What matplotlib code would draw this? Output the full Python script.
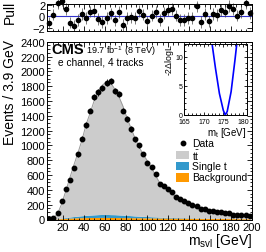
import matplotlib
matplotlib.use("Agg")
import matplotlib.pyplot as plt
from matplotlib.patches import Rectangle
from matplotlib.ticker import MultipleLocator
import numpy as np

plt.rcParams['font.family'] = ['Liberation Sans', 'DejaVu Sans']
plt.rcParams['mathtext.fontset'] = 'custom'
plt.rcParams['mathtext.rm'] = 'Liberation Sans'
plt.rcParams['mathtext.it'] = 'Liberation Sans:italic'

# m_svl binning: 50 bins of 3.9 GeV from 5 to 200
bin_lo = 5.0
bin_w = 3.9
n_bins = 50

data = [5, 24, 92, 248, 405, 535, 695, 880, 1090, 1275,
        1470, 1648, 1715, 1772, 1848, 1866, 1730, 1690, 1470, 1358,
        1222, 1080, 1002, 885, 765, 702, 608, 482, 452, 406,
        370, 306, 270, 246, 223, 194, 182, 146, 140, 116,
        114, 102, 99, 88, 83, 67, 57, 55, 57, 42]

ttbar = [5, 18, 64, 191, 353, 526, 695, 854, 1024, 1229,
         1380, 1547, 1669, 1747, 1792, 1779, 1695, 1598, 1471, 1315,
         1178, 1042, 930, 833, 750, 663, 555, 463, 409, 356,
         317, 279, 255, 231, 205, 176, 144, 130, 117, 102,
         92, 83, 74, 67, 57, 50, 43, 38, 32, 27]

single_t = [0, 1, 3, 6, 10, 14, 18, 22, 26, 30,
            33, 36, 38, 40, 40, 39, 38, 36, 33, 30,
            27, 24, 21, 19, 17, 15, 13, 11, 10, 9,
            8, 7, 6, 6, 5, 5, 4, 4, 3, 3,
            3, 3, 2, 2, 2, 2, 2, 1, 1, 1]

background = [1, 3, 8, 13, 17, 20, 22, 24, 25, 26,
              27, 27, 28, 28, 28, 27, 27, 26, 26, 25,
              25, 24, 24, 23, 23, 22, 22, 21, 21, 20,
              20, 19, 19, 18, 18, 17, 17, 16, 16, 15,
              15, 14, 14, 13, 13, 12, 12, 11, 11, 10]

pull = [-1.2, 0.3, 2.3, 2.7, 1.3, -1.1, -1.6, -0.6, 0.4, -0.3,
        0.8, 0.9, -0.5, -1.0, -0.3, 0.5, -0.7, 0.7, -1.5, -0.3,
        -0.2, -0.3, 0.9, 0.3, -0.9, 0.1, 0.7, -0.6, 0.6, 1.1,
        1.3, 0.1, -0.6, -0.6, -0.3, -0.3, 1.7, -1.0, 0.4, -0.9,
        0.4, 0.2, 1.1, 0.8, 1.8, 1.3, 0.1, 0.7, 2.3, 0.6]

# likelihood scan for the inset
mt_scan = [172.0, 173.0, 174.0, 175.0, 175.5, 176.0, 177.0, 178.0, 179.0]
nll_scan = [12.8, 8.0, 3.7, 0.8, 0.0, 0.6, 4.0, 9.5, 15.5]

centers = bin_lo + bin_w * (np.arange(n_bins) + 0.5)
data = np.array(data, float)
lvl1 = np.array(background, float)
lvl2 = lvl1 + np.array(single_t)
lvl3 = lvl2 + np.array(ttbar)

W, H = 266, 253
fig = plt.figure(figsize=(W / 100, H / 100), dpi=100)

def px_axes(x0, x1, y0, y1):
    return fig.add_axes([x0 / W, 1 - y1 / H, (x1 - x0) / W, (y1 - y0) / H])

def root_ticks(ax, size, pad=1.5):
    ax.tick_params(which='both', direction='in', top=True, right=True,
                   labelsize=size, pad=pad, width=0.6)
    ax.tick_params(which='major', length=3.5)
    ax.tick_params(which='minor', length=1.8)
    for s in ax.spines.values():
        s.set_linewidth(0.7)

# ---- pull panel
axp = px_axes(47.3, 251.7, 5, 32.3)
axp.axhline(0, color='#3333cc', lw=0.8)
axp.errorbar(centers, pull, yerr=1.0, fmt='o', color='black', ms=3.0,
             elinewidth=0.5, ecolor='#444444', capsize=0, clip_on=False)
axp.set_xlim(5, 200)
axp.set_ylim(-2.6, 2.12)
axp.set_yticks([-2, 0, 2])
axp.yaxis.set_minor_locator(MultipleLocator(1))
axp.xaxis.set_major_locator(MultipleLocator(20))
axp.xaxis.set_minor_locator(MultipleLocator(5))
root_ticks(axp, 8)
axp.tick_params(labelbottom=False)
fig.text(10 / W, 1 - 1 / H, 'Pull', rotation=90, ha='center', va='top', fontsize=10)

# ---- main panel
ax = px_axes(47.3, 251.7, 42.7, 220.5)
ax.fill_between(centers, 0, lvl1, color='#ff9900', lw=0)
ax.fill_between(centers, lvl1, lvl2, color='#3399cc', lw=0)
ax.fill_between(centers, lvl2, lvl3, color='#cccccc', lw=0)
ax.plot(centers, lvl3, color='#999999', lw=0.7)
ax.errorbar(centers, data, yerr=np.sqrt(data), fmt='o', color='black', ms=3.2,
            elinewidth=0.6, capsize=0)
ax.set_xlim(5, 200)
ax.set_ylim(0, 2400)
ax.xaxis.set_major_locator(MultipleLocator(20))
ax.xaxis.set_minor_locator(MultipleLocator(5))
ax.yaxis.set_major_locator(MultipleLocator(200))
ax.yaxis.set_minor_locator(MultipleLocator(50))
ax.set_xticks(np.arange(20, 201, 20))
root_ticks(ax, 8)
ax.tick_params(axis='x', pad=1.5)

ax.text(0.022, 0.936, 'CMS', transform=ax.transAxes, fontsize=10.5,
        fontweight='bold', va='baseline')
ax.text(0.19, 0.936, r'19.7 fb$^{-1}$ (8 TeV)', transform=ax.transAxes,
        fontsize=6.6, va='baseline')
ax.text(0.05, 0.872, 'e channel, 4 tracks', transform=ax.transAxes,
        fontsize=7.3, va='baseline')

fig.text(10 / W, 1 - 40 / H, 'Events / 3.9 GeV', rotation=90, ha='center',
         va='top', fontsize=10)
fig.text(251.7 / W, 1 - 245 / H, r'm$_{\rm svl}$ [GeV]', ha='right',
         va='baseline', fontsize=10)

# legend
def fx(px):
    return (px - 47.3) / 204.4

def fy(py):
    return (220.5 - py) / 177.8

ax.plot([fx(183.3)], [fy(144.3)], 'o', color='black', ms=3.2, transform=ax.transAxes)
ax.text(fx(192), fy(144.3), 'Data', transform=ax.transAxes, fontsize=7.5, va='center')
rows = [(155.8, '#cccccc', r't$\bar{\rm t}$'),
        (167.0, '#3399cc', 'Single t'),
        (178.3, '#ff9900', 'Background')]
for py, col, lab in rows:
    ax.add_patch(Rectangle((fx(176), fy(py) - 0.024), 0.065, 0.048,
                           transform=ax.transAxes, color=col, lw=0))
    ax.text(fx(192), fy(py), lab, transform=ax.transAxes, fontsize=7.5, va='center')

# ---- inset likelihood scan
axi = px_axes(184.3, 246.7, 45, 116)
axi.plot(mt_scan, nll_scan, color='#0000ff', lw=1.2)
axi.set_xlim(165, 181)
axi.set_ylim(0, 12.2)
axi.xaxis.set_major_locator(MultipleLocator(5))
axi.xaxis.set_minor_locator(MultipleLocator(1))
axi.yaxis.set_major_locator(MultipleLocator(5))
axi.yaxis.set_minor_locator(MultipleLocator(1))
root_ticks(axi, 5, pad=1)
axi.tick_params(axis='x', pad=2.2)
axi.tick_params(which='major', length=2.5)
axi.tick_params(which='minor', length=1.2)
fig.text(170 / W, 1 - 44 / H, r'-2$\Delta$logL', rotation=90, ha='center',
         va='top', fontsize=6.3)
fig.text(246 / W, 1 - 136 / H, r'm$_{\rm t}$ [GeV]', ha='right',
         va='baseline', fontsize=7)

fig.savefig('out.png', dpi=100)
